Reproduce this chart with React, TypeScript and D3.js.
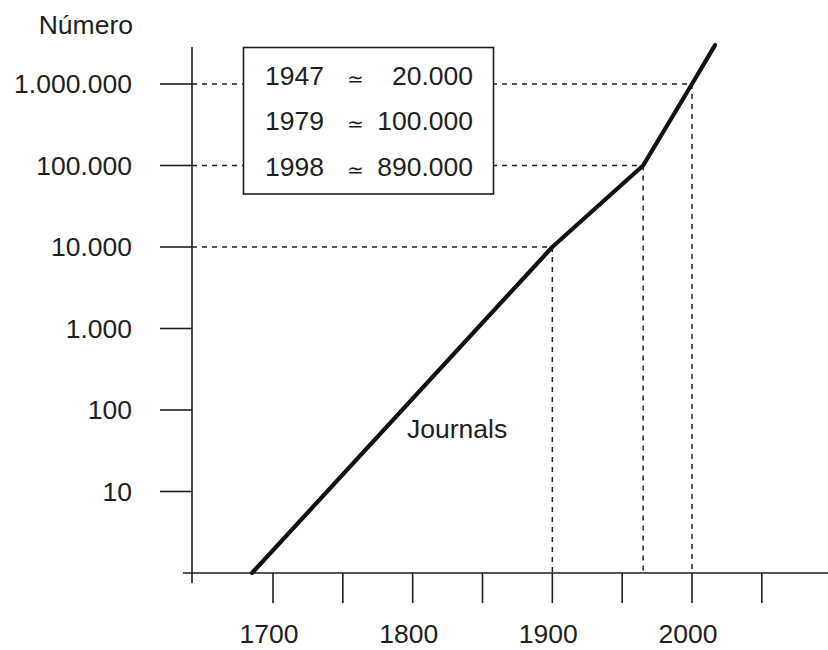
import React from 'react';
import * as d3 from 'd3';

// curve of the number of journals (log scale)
const lineYears = [1685, 1900, 1965, 2000, 2016.5];
const lineValues = [1, 10000, 100000, 1000000, 3000000];

// points marked with dotted guide lines
const guideYears = [1900, 1965, 2000];
const guideValues = [10000, 100000, 1000000];

const yTickValues = [10, 100, 1000, 10000, 100000, 1000000];
const yTickLabels = ['10', '100', '1.000', '10.000', '100.000', '1.000.000'];

const xTickValues = [1700, 1750, 1800, 1850, 1900, 1950, 2000, 2050];
const xLabelYears = [1700, 1800, 1900, 2000];

const tableYears = ['1947', '1979', '1998'];
const tableCounts = ['20.000', '100.000', '890.000'];

const W = 828;
const H = 650;
const FONT = '"Liberation Sans", Arial, Helvetica, sans-serif';
const INK = '#1e1e1e';

const App = () => {
    const x = d3.scaleLinear().domain([1700, 2000]).range([273, 692]);
    const y = d3.scaleLog().domain([1, 1000000]).range([573, 84]);

    const axisX = 192;
    const axisY = y(1);

    const line = d3.line<number>()
        .x((d, i) => x(lineYears[i]))
        .y(d => y(d));

    const box = { x: 243.5, y: 47.5, w: 250, h: 146.5 };
    const rowY = d3.scaleLinear().domain([0, 2]).range([85, 175.5]);

    return (
        <svg width={W} height={H} style={{ position: 'absolute', left: 0, top: 0, background: '#fff' }}
            fontFamily={FONT}>
            {/* dotted guides */}
            {guideYears.map((yr, i) => (
                <g key={'g' + i} stroke={INK} strokeWidth={1.5} strokeDasharray="5,5" fill="none">
                    <line x1={axisX} x2={x(yr)} y1={y(guideValues[i])} y2={y(guideValues[i])} />
                    <line x1={x(yr)} x2={x(yr)} y1={y(guideValues[i])} y2={axisY} />
                </g>
            ))}

            {/* table box */}
            <rect x={box.x} y={box.y} width={box.w} height={box.h} fill="#fff" stroke={INK} strokeWidth={1.6} />
            {tableYears.map((yr, i) => (
                <g key={'t' + i} fill={INK}>
                    <text x={265} y={rowY(i)} fontSize={26.5}>{yr}</text>
                    <text x={355} y={rowY(i) + 1} fontSize={20} textAnchor="middle">≃</text>
                    <text x={473} y={rowY(i)} fontSize={26.5} textAnchor="end">{tableCounts[i]}</text>
                </g>
            ))}

            {/* axes */}
            <line x1={axisX} x2={axisX} y1={47} y2={583} stroke={INK} strokeWidth={1.6} />
            <line x1={183} x2={W} y1={axisY} y2={axisY} stroke={INK} strokeWidth={1.6} />

            {yTickValues.map((v, i) => (
                <g key={'y' + i}>
                    <line x1={160} x2={axisX} y1={y(v)} y2={y(v)} stroke={INK} strokeWidth={1.6} />
                    <text x={132} y={y(v)} dy="0.35em" textAnchor="end" fontSize={26.5} fill={INK}>
                        {yTickLabels[i]}
                    </text>
                </g>
            ))}

            {xTickValues.map((v, i) => (
                <line key={'x' + i} x1={x(v)} x2={x(v)} y1={axisY} y2={603} stroke={INK} strokeWidth={1.6} />
            ))}
            {xLabelYears.map((v, i) => (
                <text key={'xl' + i} x={x(v) - 4} y={643} textAnchor="middle" fontSize={26.5} fill={INK}>
                    {v}
                </text>
            ))}

            <text x={133} y={34} textAnchor="end" fontSize={26.5} fill={INK}>Número</text>

            {/* journals curve */}
            <path d={line(lineValues) || ''} fill="none" stroke="#111" strokeWidth={4.2}
                strokeLinejoin="round" strokeLinecap="round" />
            <text x={407} y={438} fontSize={26.5} fill={INK}>Journals</text>
        </svg>
    );
};

export default App;
